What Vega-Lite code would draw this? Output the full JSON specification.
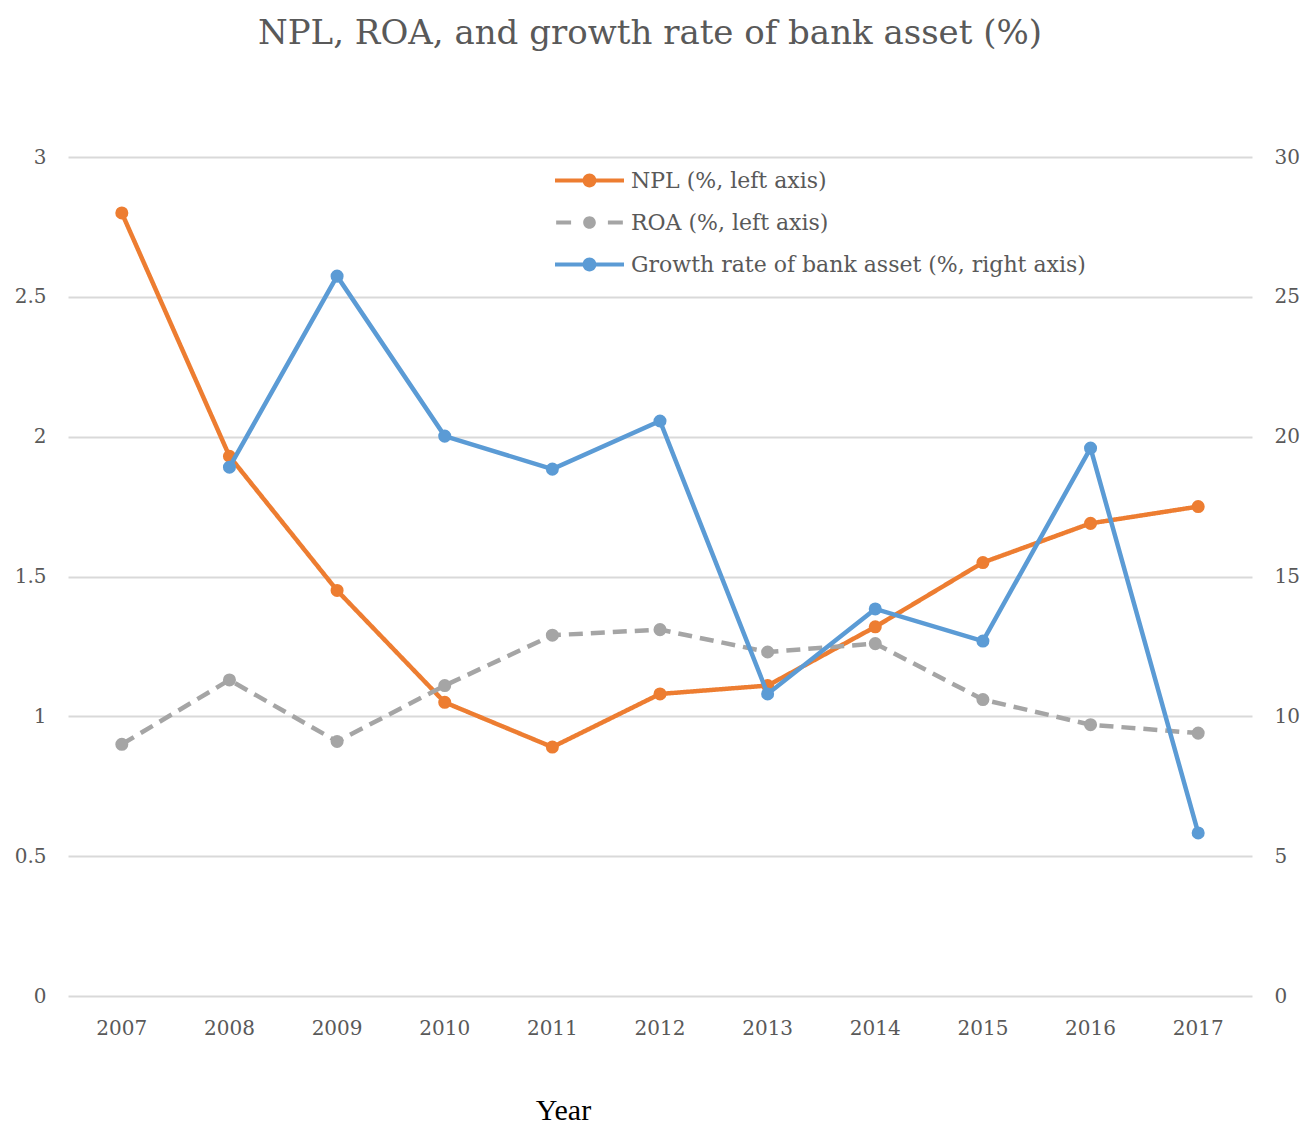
{
  "$schema": "https://vega.github.io/schema/vega-lite/v6.json",
  "autosize": {"type": "none"},
  "width": 1184,
  "height": 839,
  "padding": {"left": 68, "top": 157, "right": 53, "bottom": 128},
  "background": "white",
  "title": {
    "text": "NPL, ROA, and growth rate of bank asset (%)",
    "font": "DejaVu Serif",
    "fontSize": 34,
    "fontWeight": "normal",
    "color": "#595959",
    "anchor": "middle",
    "offset": 96,
    "dx": -10
  },
  "config": {
    "view": {"stroke": null},
    "font": "DejaVu Serif"
  },
  "data": {
    "values": [
      {"year": "2007", "series": "NPL (%, left axis)", "value": 2.80},
      {"year": "2008", "series": "NPL (%, left axis)", "value": 1.93},
      {"year": "2009", "series": "NPL (%, left axis)", "value": 1.45},
      {"year": "2010", "series": "NPL (%, left axis)", "value": 1.05},
      {"year": "2011", "series": "NPL (%, left axis)", "value": 0.89},
      {"year": "2012", "series": "NPL (%, left axis)", "value": 1.08},
      {"year": "2013", "series": "NPL (%, left axis)", "value": 1.11},
      {"year": "2014", "series": "NPL (%, left axis)", "value": 1.32},
      {"year": "2015", "series": "NPL (%, left axis)", "value": 1.55},
      {"year": "2016", "series": "NPL (%, left axis)", "value": 1.69},
      {"year": "2017", "series": "NPL (%, left axis)", "value": 1.75},
      {"year": "2007", "series": "ROA (%, left axis)", "value": 0.90},
      {"year": "2008", "series": "ROA (%, left axis)", "value": 1.13},
      {"year": "2009", "series": "ROA (%, left axis)", "value": 0.91},
      {"year": "2010", "series": "ROA (%, left axis)", "value": 1.11},
      {"year": "2011", "series": "ROA (%, left axis)", "value": 1.29},
      {"year": "2012", "series": "ROA (%, left axis)", "value": 1.31},
      {"year": "2013", "series": "ROA (%, left axis)", "value": 1.23},
      {"year": "2014", "series": "ROA (%, left axis)", "value": 1.26},
      {"year": "2015", "series": "ROA (%, left axis)", "value": 1.06},
      {"year": "2016", "series": "ROA (%, left axis)", "value": 0.97},
      {"year": "2017", "series": "ROA (%, left axis)", "value": 0.94},
      {"year": "2008", "series": "Growth rate of bank asset (%, right axis)", "value": 18.91},
      {"year": "2009", "series": "Growth rate of bank asset (%, right axis)", "value": 25.74},
      {"year": "2010", "series": "Growth rate of bank asset (%, right axis)", "value": 20.02},
      {"year": "2011", "series": "Growth rate of bank asset (%, right axis)", "value": 18.84},
      {"year": "2012", "series": "Growth rate of bank asset (%, right axis)", "value": 20.56},
      {"year": "2013", "series": "Growth rate of bank asset (%, right axis)", "value": 10.80},
      {"year": "2014", "series": "Growth rate of bank asset (%, right axis)", "value": 13.84},
      {"year": "2015", "series": "Growth rate of bank asset (%, right axis)", "value": 12.69},
      {"year": "2016", "series": "Growth rate of bank asset (%, right axis)", "value": 19.59},
      {"year": "2017", "series": "Growth rate of bank asset (%, right axis)", "value": 5.83}
    ]
  },
  "encoding": {
    "x": {
      "field": "year",
      "type": "ordinal",
      "scale": {"type": "band", "paddingInner": 0, "paddingOuter": 0},
      "axis": {
        "title": "Year",
        "titleFont": "Liberation Serif",
        "titleFontSize": 30,
        "titleFontWeight": "normal",
        "titleColor": "#000000",
        "titleX": 495,
        "titleY": 114,
        "titleAlign": "center",
        "titleBaseline": "middle",
        "labelAngle": 0,
        "labelFont": "DejaVu Serif",
        "labelFontSize": 20,
        "labelColor": "#595959",
        "labelPadding": 32,
        "labelBaseline": "middle",
        "domain": false,
        "ticks": false
      }
    },
    "color": {
      "field": "series",
      "type": "nominal",
      "scale": {
        "domain": ["NPL (%, left axis)", "ROA (%, left axis)", "Growth rate of bank asset (%, right axis)"],
        "range": ["#ED7D31", "#A5A5A5", "#5B9BD5"]
      },
      "legend": {
        "title": null,
        "orient": "none",
        "legendX": 510,
        "legendY": 12,
        "direction": "vertical",
        "symbolSize": 529,
        "symbolStrokeWidth": 0,
        "labelFont": "DejaVu Serif",
        "labelFontSize": 22,
        "labelColor": "#595959",
        "labelOffset": 30,
        "rowPadding": 19,
        "labelLimit": 700,
        "encode": {
          "symbols": {
            "update": {
              "shape": {"signal": "datum.value === 'ROA (%, left axis)' ? 'M-2.9,-0.17H-1.6V0.17H-2.9Z M1.6,-0.17H2.9V0.17H1.6Z M0.55,0A0.55,0.55 0 1,1 -0.55,0A0.55,0.55 0 1,1 0.55,0Z' : 'M-3,-0.17H-0.5V0.17H-3Z M0.5,-0.17H3V0.17H0.5Z M0.6,0A0.6,0.6 0 1,1 -0.6,0A0.6,0.6 0 1,1 0.6,0Z'"},
              "fill": {"scale": "color", "field": "value"},
              "fillOpacity": {"value": 1},
              "strokeWidth": {"value": 0}
            }
          }
        }
      }
    }
  },
  "layer": [
    {
      "transform": [{"filter": "datum.series !== 'Growth rate of bank asset (%, right axis)'"}],
      "encoding": {
        "y": {
          "field": "value",
          "type": "quantitative",
          "scale": {"domain": [0, 3], "nice": false},
          "axis": {
            "title": null,
            "orient": "left",
            "values": [0, 0.5, 1, 1.5, 2, 2.5, 3],
            "labelExpr": "datum.value",
            "labelFont": "DejaVu Serif",
            "labelFontSize": 20,
            "labelColor": "#595959",
            "labelPadding": 22,
            "domain": false,
            "ticks": false,
            "grid": true,
            "gridColor": "#D9D9D9",
            "gridWidth": 2
          }
        }
      },
      "layer": [
        {
          "mark": {"type": "line", "strokeWidth": 4.5, "strokeCap": "butt"},
          "encoding": {
            "strokeDash": {
              "field": "series",
              "type": "nominal",
              "scale": {"domain": ["NPL (%, left axis)", "ROA (%, left axis)"], "range": [[1, 0], [14, 8]]},
              "legend": null
            }
          }
        },
        {
          "mark": {"type": "point", "filled": true, "opacity": 1, "size": 170}
        }
      ]
    },
    {
      "transform": [{"filter": "datum.series === 'Growth rate of bank asset (%, right axis)'"}],
      "encoding": {
        "y": {
          "field": "value",
          "type": "quantitative",
          "scale": {"domain": [0, 30], "nice": false},
          "axis": {
            "title": null,
            "orient": "right",
            "values": [0, 5, 10, 15, 20, 25, 30],
            "labelFont": "DejaVu Serif",
            "labelFontSize": 20,
            "labelColor": "#595959",
            "labelPadding": 22,
            "domain": false,
            "ticks": false,
            "grid": false
          }
        }
      },
      "layer": [
        {"mark": {"type": "line", "strokeWidth": 4.5}},
        {"mark": {"type": "point", "filled": true, "opacity": 1, "size": 170}}
      ]
    }
  ],
  "resolve": {"scale": {"y": "independent"}}
}
